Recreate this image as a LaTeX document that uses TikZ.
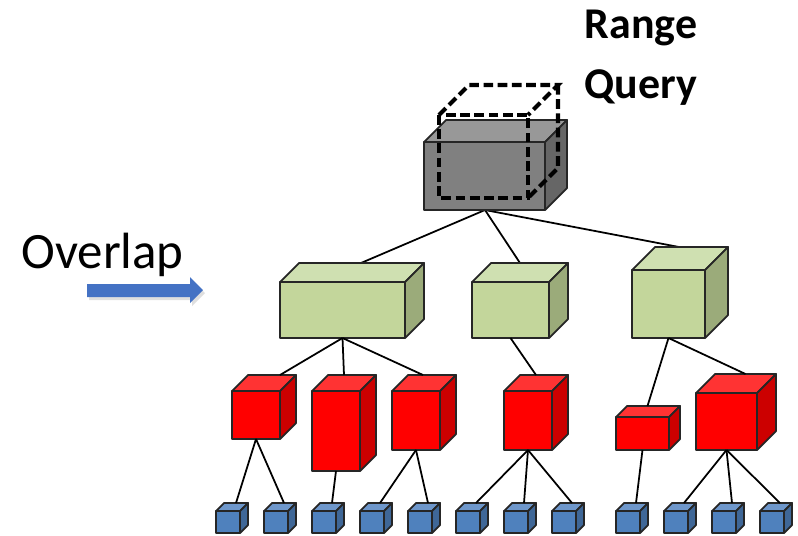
\documentclass[tikz,border=0pt]{standalone}
\usepackage{fontspec}
\setmainfont{Carlito}
\usetikzlibrary{calc}
\definecolor{edgegray}{RGB}{38,38,38}
\definecolor{grayfront}{RGB}{128,128,128}
\definecolor{graytop}{RGB}{152,152,152}
\definecolor{grayside}{RGB}{102,102,102}
\definecolor{greenfront}{RGB}{195,214,155}
\definecolor{greentop}{RGB}{207,224,177}
\definecolor{greenside}{RGB}{155,171,122}
\definecolor{redfront}{RGB}{255,0,0}
\definecolor{redtop}{RGB}{255,51,51}
\definecolor{redside}{RGB}{204,0,0}
\definecolor{bluefront}{RGB}{79,129,189}
\definecolor{bluetop}{RGB}{110,151,203}
\definecolor{blueside}{RGB}{63,103,151}
\definecolor{arrowblue}{RGB}{68,114,196}

\tikzset{
  cubeedge/.style={draw=edgegray, line width=1pt, line join=round},
  link/.style={draw=black, line width=1pt},
  querybox/.style={draw=black, line width=2.3pt, dash pattern=on 5.5pt off 2.6pt}
}

% cube: name, x, y (top left of front face), width, height, depth, colour
\newcommand{\drawcube}[7]{%
  \draw[cubeedge, fill=#7top] (#2,#3) -- ++(#6,-#6) -- ++(#4,0) -- ++(-#6,#6) -- cycle;
  \draw[cubeedge, fill=#7side] ({#2+#4},#3) -- ++(#6,-#6) -- ++(0,#5) -- ++(-#6,#6) -- cycle;
  \draw[cubeedge, fill=#7front] (#2,#3) rectangle ++(#4,#5);
  \coordinate (#1-t) at ({#2+#6+#4/2},{#3-#6});
  \coordinate (#1-b) at ({#2+#4/2},{#3+#5});
}

\begin{document}
\begin{tikzpicture}[x=0.02cm, y=-0.02cm]
\useasboundingbox (0,0) rectangle (798,535);

% ================= COORDINATES OF THE CUBES =================
\path (485,210) coordinate (root-b)
      (361,263) coordinate (g1-t) (520,263) coordinate (g2-t) (679,247) coordinate (g3-t);

% ================= CONNECTORS (behind the cubes) =================
\draw[link] (root-b) -- (g1-t);
\draw[link] (root-b) -- (g2-t);
\draw[link] (root-b) -- (g3-t);

% ================= GREEN LEVEL =================
\drawcube{g1}{280}{282}{125}{56}{19}{green}
\drawcube{g2}{472}{282}{77}{56}{19}{green}
\drawcube{g3}{632}{270}{73}{68}{23}{green}

% ================= RED LEVEL =================
\drawcube{r1}{232}{391}{48}{48}{16}{red}
\drawcube{r2}{312}{391}{48}{80}{16}{red}
\drawcube{r3}{392}{391}{48}{59}{16}{red}
\drawcube{r4}{504}{391}{48}{59}{16}{red}
\drawcube{r5}{616}{417}{53}{33}{11}{red}
\drawcube{r6}{696}{393}{61}{57}{19}{red}

\draw[link] (g1-b) -- ($(r1-t)+(8,0)$);
\draw[link] (g1-b) -- ($(r2-t)+(-8,0)$);
\draw[link] (g1-b) -- ($(r3-t)+(-9,0)$);
\draw[link] (g2-b) -- ($(r4-t)+(-8,0)$);
\draw[link] (g3-b) -- ($(r5-t)+(-6,0)$);
\draw[link] (g3-b) -- (r6-t);

% ================= BLUE LEVEL =================
\foreach \i/\x in {1/216,2/264,3/312,4/360,5/408,6/456,7/504,8/552,9/616,10/664,11/712,12/760}{
  \drawcube{b\i}{\x}{511}{24}{22}{8}{blue}
}

\draw[link] (r1-b) -- (b1-t);
\draw[link] (r1-b) -- (b2-t);
\draw[link] (r2-b) -- (b3-t);
\draw[link] (r3-b) -- (b4-t);
\draw[link] (r3-b) -- (b5-t);
\draw[link] (r4-b) -- (b6-t);
\draw[link] (r4-b) -- (b7-t);
\draw[link] (r4-b) -- (b8-t);
\draw[link] (r5-b) -- (b9-t);
\draw[link] (r6-b) -- (b10-t);
\draw[link] (r6-b) -- (b11-t);
\draw[link] (r6-b) -- (b12-t);

% ================= ROOT + QUERY =================
\drawcube{root}{424}{142}{121}{68}{22}{gray}
\draw[querybox] (439,115) rectangle (528,198);
\draw[querybox] (439,115) -- (469,85) -- (558,85) -- (528,115);
\draw[querybox] (558,85) -- (558,168) -- (528,198);

\node[font=\fontsize{25}{34}\selectfont\bfseries, align=center, inner sep=0pt]
  (query) at (641,58) {Range\\Query};

% ================= OVERLAP =================
\node[font=\fontsize{29}{32}\selectfont, anchor=base west, inner sep=0pt]
  (overlap) at (21,268) {Overlap};
\fill[black!25, opacity=0.5] (89,287) -- (192,287) -- (192,280) -- (205,293)
  -- (192,306) -- (192,300) -- (89,300) -- cycle;
\fill[arrowblue] (87,284) -- (190,284) -- (190,277) -- (203,290)
  -- (190,303) -- (190,297) -- (87,297) -- cycle;

\end{tikzpicture}
\end{document}
